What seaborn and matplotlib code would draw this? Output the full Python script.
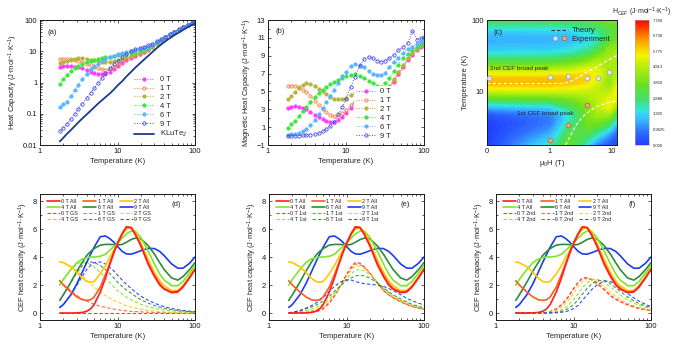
import matplotlib
matplotlib.use("Agg")
import matplotlib.pyplot as plt
import matplotlib.ticker as mticker
from matplotlib.colors import LinearSegmentedColormap, Normalize
from matplotlib.lines import Line2D
from matplotlib.legend_handler import HandlerTuple
import numpy as np
import seaborn as sns

# ---------------- values ----------------
fields = [0, 1, 2, 4, 6, 9]

# panels (a) and (b)
temp_hc = [1.8, 2.0, 2.2, 2.5, 2.8, 3.1, 3.5, 4.0, 4.5, 5.0, 5.6, 6.3, 7.0, 8.0, 9.0, 10, 11.5,
           13, 15, 17, 19.5, 22, 25, 28, 32, 36, 41, 47, 54, 62, 71, 81, 92, 100]

total_0T = [3.11, 3.32, 3.37, 3.33, 3.19, 3.05, 2.82, 2.5, 2.23, 2.06, 1.91, 1.87, 1.94, 2.2, 2.7, 3.35, 4.3,
            5.25, 6.2, 7.15, 8.3, 9.55, 11.3, 13.4, 17.1, 21.3, 26.6, 32.9, 40.2, 48.5, 58.1, 68.6, 80.0, 88.2]
total_1T = [5.61, 5.64, 5.62, 5.48, 5.24, 5.0, 4.57, 4.05, 3.58, 3.21, 2.86, 2.62, 2.54, 2.7, 3.15, 3.7, 4.55,
            5.45, 6.4, 7.35, 8.45, 9.7, 11.45, 13.55, 17.2, 21.4, 26.7, 33.0, 40.3, 48.6, 58.2, 68.7, 80.1, 88.3]
total_2T = [4.11, 4.52, 4.92, 5.43, 5.79, 5.95, 5.92, 5.7, 5.43, 5.16, 4.91, 4.67, 4.54, 4.55, 4.75, 5.1, 5.7,
            6.4, 7.2, 8.05, 9.05, 10.2, 11.9, 13.95, 17.5, 21.6, 26.9, 33.2, 40.5, 48.7, 58.3, 68.8, 80.1, 88.3]
total_4T = [0.91, 1.32, 1.72, 2.28, 2.84, 3.35, 3.92, 4.5, 4.98, 5.36, 5.71, 6.07, 6.39, 6.75, 7.15, 7.5, 7.95,
            8.45, 8.95, 9.5, 10.3, 11.3, 12.85, 14.85, 18.4, 22.5, 27.8, 34.0, 41.2, 49.2, 58.6, 69.0, 80.3, 88.5]
total_6T = [0.16, 0.2, 0.24, 0.38, 0.59, 0.85, 1.27, 1.9, 2.63, 3.26, 4.01, 4.77, 5.54, 6.45, 7.3, 8.0, 8.9,
            9.6, 10.2, 10.7, 11.4, 12.4, 14.05, 16.1, 19.6, 23.7, 28.8, 34.8, 41.8, 49.7, 59.0, 69.3, 80.5, 88.6]
total_9T = [0.028, 0.036, 0.046, 0.068, 0.1, 0.14, 0.21, 0.32, 0.46, 0.65, 0.95, 1.4, 1.95, 2.9, 3.9, 5.0, 6.6,
            8.2, 10.1, 11.6, 13.0, 14.1, 15.65, 17.65, 20.95, 24.7, 29.6, 35.6, 42.5, 50.4, 60.8, 69.8, 81.0, 89.1]
lattice_KLuTe2 = [0.013, 0.017, 0.022, 0.03, 0.04, 0.052, 0.07, 0.095, 0.125, 0.16, 0.21, 0.27, 0.34, 0.45, 0.6,
                  0.8, 1.1, 1.55, 2.2, 3.0, 4.1, 5.4, 7.2, 9.3, 12.5, 16, 20.5, 26, 32.5, 40, 49, 59, 70, 78]

mag_0T = [3.1, 3.3, 3.35, 3.3, 3.15, 3.0, 2.75, 2.4, 2.1, 1.9, 1.7, 1.6, 1.6, 1.75, 2.1, 2.55, 3.2,
          3.7, 4.0, 4.15, 4.2, 4.15, 4.1, 4.1, 4.6, 5.3, 6.1, 6.9, 7.7, 8.5, 9.1, 9.6, 10.0, 10.2]
mag_1T = [5.6, 5.62, 5.6, 5.45, 5.2, 4.95, 4.5, 3.95, 3.45, 3.05, 2.65, 2.35, 2.2, 2.25, 2.55, 2.9, 3.45,
          3.9, 4.2, 4.35, 4.35, 4.3, 4.25, 4.25, 4.7, 5.4, 6.2, 7.0, 7.8, 8.6, 9.2, 9.7, 10.1, 10.3]
mag_2T = [4.1, 4.5, 4.9, 5.4, 5.75, 5.9, 5.85, 5.6, 5.3, 5.0, 4.7, 4.4, 4.2, 4.1, 4.15, 4.3, 4.6,
          4.85, 5.0, 5.05, 4.95, 4.8, 4.7, 4.65, 5.0, 5.6, 6.4, 7.2, 8.0, 8.7, 9.3, 9.8, 10.1, 10.3]
mag_4T = [0.9, 1.3, 1.7, 2.25, 2.8, 3.3, 3.85, 4.4, 4.85, 5.2, 5.5, 5.8, 6.05, 6.3, 6.55, 6.7, 6.85,
          6.9, 6.75, 6.5, 6.2, 5.9, 5.65, 5.55, 5.9, 6.5, 7.3, 8.0, 8.7, 9.2, 9.6, 10.0, 10.3, 10.5]
mag_6T = [0.15, 0.18, 0.22, 0.35, 0.55, 0.8, 1.2, 1.8, 2.5, 3.1, 3.8, 4.5, 5.2, 6.0, 6.7, 7.2, 7.8,
          8.05, 8.0, 7.7, 7.3, 7.0, 6.85, 6.8, 7.1, 7.7, 8.3, 8.8, 9.3, 9.7, 10.0, 10.3, 10.5, 10.6]
mag_9T = [0.04, 0.04, 0.05, 0.06, 0.08, 0.11, 0.16, 0.24, 0.36, 0.52, 0.77, 1.1, 1.6, 2.45, 3.3, 4.2, 5.5,
          6.65, 7.9, 8.6, 8.9, 8.7, 8.45, 8.35, 8.45, 8.7, 9.1, 9.6, 10.0, 10.4, 11.8, 10.8, 11.0, 11.1]

# panels (c)-(f)
temp_cef = [1.8, 2, 2.5, 3, 3.5, 4, 4.5, 5, 6, 7, 8, 9, 10, 11.5, 13, 15, 17, 20, 25, 30, 35, 40, 50, 60, 70, 85, 100]

all_0T = [0, 0, 0, 0.01, 0.04, 0.12, 0.3, 0.6, 1.5, 2.5, 3.5, 4.3, 4.95, 5.65, 6.15, 6.1, 5.6, 4.8, 3.45, 2.6,
          2.0, 1.7, 1.45, 1.5, 1.85, 2.5, 3.1]
all_1T = [2.3, 2.0, 1.5, 1.15, 0.95, 0.9, 0.95, 1.15, 1.85, 2.75, 3.6, 4.4, 5.0, 5.7, 6.15, 6.1, 5.65, 4.85, 3.55,
          2.7, 2.1, 1.75, 1.5, 1.55, 1.9, 2.55, 3.15]
all_2T = [3.65, 3.6, 3.3, 2.9, 2.5, 2.25, 2.2, 2.25, 2.8, 3.4, 4.0, 4.5, 5.0, 5.6, 6.0, 6.1, 5.8, 5.0, 3.8, 2.9,
          2.3, 1.95, 1.6, 1.62, 1.95, 2.6, 3.2]
all_4T = [2.0, 2.4, 3.1, 3.6, 3.85, 3.95, 4.0, 4.0, 4.05, 4.2, 4.5, 4.75, 5.0, 5.35, 5.65, 5.85, 5.85, 5.4, 4.4,
          3.5, 2.8, 2.35, 1.95, 1.95, 2.25, 2.85, 3.4]
all_6T = [0.9, 1.3, 2.2, 3.0, 3.6, 4.1, 4.4, 4.6, 4.85, 4.9, 4.9, 4.88, 4.85, 4.9, 5.05, 5.25, 5.35, 5.3, 4.8,
          4.2, 3.6, 3.1, 2.5, 2.35, 2.6, 3.1, 3.6]
all_9T = [0.4, 0.6, 1.3, 2.1, 2.9, 3.6, 4.2, 4.7, 5.45, 5.5, 5.3, 5.05, 4.75, 4.4, 4.22, 4.2, 4.3, 4.45, 4.62,
          4.6, 4.4, 4.1, 3.5, 3.2, 3.2, 3.55, 4.0]

gs_0T = [0] * 27
gs_1T = [2.3, 2.05, 1.6, 1.25, 1.0, 0.85, 0.72, 0.62, 0.48, 0.4, 0.33, 0.28, 0.24, 0.19, 0.15, 0.12, 0.1, 0.08,
         0.05, 0.04, 0.03, 0.02, 0.01, 0.01, 0.0, 0.0, 0.0]
gs_2T = [3.65, 3.6, 3.35, 3.0, 2.65, 2.35, 2.1, 1.85, 1.5, 1.25, 1.05, 0.9, 0.78, 0.64, 0.52, 0.42, 0.34, 0.26,
         0.18, 0.13, 0.1, 0.08, 0.05, 0.04, 0.03, 0.02, 0.01]
gs_4T = [2.0, 2.4, 3.1, 3.5, 3.65, 3.6, 3.45, 3.3, 2.9, 2.5, 2.15, 1.85, 1.6, 1.35, 1.15, 0.95, 0.8, 0.62, 0.45,
         0.34, 0.27, 0.22, 0.15, 0.11, 0.08, 0.06, 0.04]
gs_6T = [0.9, 1.3, 2.2, 2.9, 3.35, 3.6, 3.65, 3.6, 3.4, 3.1, 2.8, 2.5, 2.2, 1.9, 1.65, 1.4, 1.2, 0.95, 0.7, 0.53,
         0.42, 0.34, 0.24, 0.18, 0.14, 0.1, 0.07]
gs_9T = [0.4, 0.6, 1.3, 2.0, 2.6, 3.1, 3.4, 3.6, 3.65, 3.5, 3.25, 3.0, 2.7, 2.35, 2.05, 1.75, 1.5, 1.2, 0.9, 0.7,
         0.56, 0.45, 0.32, 0.24, 0.18, 0.13, 0.1]

first_0T = [0, 0, 0, 0.01, 0.03, 0.08, 0.17, 0.3, 0.7, 1.2, 1.75, 2.3, 2.75, 3.3, 3.62, 3.55, 3.3, 2.85, 2.15, 1.6,
            1.3, 1.08, 0.8, 0.6, 0.46, 0.34, 0.26]
first_1T = [0, 0, 0.01, 0.03, 0.06, 0.12, 0.2, 0.35, 0.75, 1.25, 1.75, 2.25, 2.7, 3.2, 3.5, 3.45, 3.25, 2.85, 2.15,
            1.62, 1.32, 1.1, 0.82, 0.62, 0.48, 0.35, 0.27]
first_2T = [0.01, 0.02, 0.04, 0.08, 0.14, 0.22, 0.32, 0.45, 0.85, 1.3, 1.75, 2.2, 2.6, 3.05, 3.35, 3.35, 3.2, 2.85,
            2.2, 1.68, 1.38, 1.15, 0.86, 0.65, 0.5, 0.37, 0.28]
first_4T = [0.02, 0.04, 0.1, 0.18, 0.27, 0.38, 0.5, 0.65, 1.0, 1.4, 1.8, 2.15, 2.45, 2.8, 3.05, 3.1, 3.0, 2.75, 2.2,
            1.75, 1.45, 1.22, 0.92, 0.7, 0.55, 0.41, 0.31]
first_6T = [0.02, 0.05, 0.15, 0.3, 0.43, 0.55, 0.7, 0.85, 1.2, 1.55, 1.85, 2.1, 2.3, 2.5, 2.65, 2.7, 2.65, 2.5, 2.15,
            1.8, 1.52, 1.3, 1.0, 0.78, 0.62, 0.47, 0.36]
first_9T = [0.02, 0.05, 0.18, 0.35, 0.52, 0.7, 0.9, 1.1, 1.55, 1.9, 2.15, 2.3, 2.37, 2.35, 2.25, 2.15, 2.1, 2.05,
            2.0, 1.9, 1.75, 1.6, 1.3, 1.05, 0.88, 0.7, 0.58]

second_0T = [0, 0, 0, 0, 0.01, 0.02, 0.05, 0.1, 0.3, 0.6, 0.95, 1.35, 1.75, 2.2, 2.5, 2.52, 2.38, 2.1, 1.65, 1.22,
             0.98, 0.8, 0.58, 0.42, 0.32, 0.23, 0.17]
second_1T = [0, 0, 0, 0, 0.01, 0.02, 0.04, 0.09, 0.28, 0.57, 0.9, 1.3, 1.7, 2.15, 2.47, 2.52, 2.4, 2.15, 1.7, 1.27,
             1.02, 0.83, 0.6, 0.44, 0.33, 0.24, 0.18]
second_2T = [0, 0, 0, 0, 0, 0.01, 0.03, 0.06, 0.2, 0.42, 0.7, 1.05, 1.4, 1.9, 2.25, 2.45, 2.45, 2.3, 1.9, 1.48,
             1.2, 0.98, 0.7, 0.52, 0.4, 0.29, 0.21]
second_4T = [0, 0, 0, 0, 0, 0, 0.01, 0.03, 0.1, 0.23, 0.42, 0.68, 0.95, 1.4, 1.8, 2.15, 2.35, 2.42, 2.2, 1.85,
             1.55, 1.3, 0.95, 0.7, 0.54, 0.4, 0.3]
second_6T = [0, 0, 0, 0, 0, 0, 0, 0.01, 0.05, 0.12, 0.23, 0.4, 0.6, 0.95, 1.35, 1.75, 2.05, 2.3, 2.33, 2.1,
             1.8, 1.55, 1.15, 0.87, 0.68, 0.5, 0.38]
second_9T = [0, 0, 0, 0, 0, 0, 0, 0, 0.02, 0.05, 0.1, 0.2, 0.32, 0.55, 0.9, 1.3, 1.65, 2.0, 2.28, 2.25,
             2.05, 1.82, 1.4, 1.08, 0.85, 0.62, 0.45]

# extra column of the (c) map at the right edge
map_fields = [0, 1, 2, 4, 6, 9, 12]
map_12T = [0.15, 0.25, 0.55, 1.0, 1.55, 2.1, 2.7, 3.25, 4.2, 4.9, 5.35, 5.55, 5.6, 5.45, 5.2, 4.95, 4.8, 4.7,
           4.65, 4.65, 4.55, 4.35, 3.9, 3.6, 3.5, 3.7, 4.0]

theory_2nd_h = [0, 0.5, 1, 1.5, 1.8, 2.5, 3.7, 5.3, 8, 11.2, 12]
theory_2nd_t = [13, 13, 13, 13, 13.2, 14.7, 18.2, 21.4, 26.5, 31, 32]
theory_1st_h = [1.8, 2.2, 2.6, 3.2, 3.8, 5, 6.5, 8.5, 12]
theory_1st_t = [1.8, 2.5, 3.3, 4.2, 4.9, 5.8, 6.5, 7.0, 7.4]
exp_2nd_h = [0.03, 1, 2, 4, 6, 9]
exp_2nd_t = [15.5, 16, 16.5, 15.5, 15.5, 19]
exp_1st_h = [1, 2, 4]
exp_1st_t = [2.1, 3.4, 6.6]

cbar_ticks = [0, 0.9625, 1.925, 2.888, 3.85, 4.813, 5.775, 6.738, 7.7]
cbar_labels = ['0.000', '0.9625', '1.925', '2.888', '3.850', '4.813', '5.775', '6.738', '7.700']

# ---------------- style ----------------
sns.set_theme(style="ticks")
plt.rcParams['font.family'] = ['Liberation Sans', 'DejaVu Sans']
plt.rcParams['mathtext.fontset'] = 'custom'
plt.rcParams['mathtext.rm'] = 'Liberation Sans'
plt.rcParams['mathtext.it'] = 'Liberation Sans:italic'

FS = 5.5
unit = ' (J·mol$^{-1}$·K$^{-1}$)'
hc_colors = ['#ff3cff', '#ff7a3c', '#b4b43c', '#3ce63c', '#5ab4ff', '#4b4be6']
hc_filled = [True, False, True, True, True, False]
cef_colors = ['#ff1e1e', '#ff5a1e', '#ffc800', '#7ee62a', '#2e8b3c', '#1e3cf0']

total_curves = [total_0T, total_1T, total_2T, total_4T, total_6T, total_9T]
mag_curves = [mag_0T, mag_1T, mag_2T, mag_4T, mag_6T, mag_9T]
all_curves = [all_0T, all_1T, all_2T, all_4T, all_6T, all_9T]
gs_curves = [gs_0T, gs_1T, gs_2T, gs_4T, gs_6T, gs_9T]
first_curves = [first_0T, first_1T, first_2T, first_4T, first_6T, first_9T]
second_curves = [second_0T, second_1T, second_2T, second_4T, second_6T, second_9T]


def style_axis(ax):
    ax.tick_params(which='both', direction='in', top=True, right=True,
                   labelsize=FS, width=0.5, pad=2, colors='k')
    ax.tick_params(which='major', length=2.5)
    ax.tick_params(which='minor', length=1.4)
    for s in ax.spines.values():
        s.set_linewidth(0.7)
        s.set_color('k')


def log_temperature_axis(ax):
    ax.set_xscale('log')
    ax.set_xlim(1, 100)
    ax.xaxis.set_major_formatter(mticker.FuncFormatter(lambda v, p: f'{v:g}'))
    ax.xaxis.set_minor_formatter(mticker.NullFormatter())
    ax.set_xlabel('Temperature (K)', fontsize=FS, labelpad=2)


def draw_marker_curves(ax, curves):
    for f, vals, col, filled in zip(fields, curves, hc_colors, hc_filled):
        sns.lineplot(x=temp_hc, y=vals, ax=ax, color=col, lw=0.7, linestyle=':',
                     marker='o', markersize=2.4, markeredgewidth=0.6,
                     markeredgecolor=col, markerfacecolor=col if filled else 'none',
                     label=f'{f} T')


fig = plt.figure(figsize=(6.83, 3.49), dpi=100)
W, H = 683.0, 349.0


def axes_at(left, top, right, bottom):
    return fig.add_axes([left / W, 1 - bottom / H, (right - left) / W, (bottom - top) / H])


# ---- (a) ----
ax = axes_at(40, 20, 195, 145)
draw_marker_curves(ax, total_curves)
sns.lineplot(x=temp_hc, y=lattice_KLuTe2, ax=ax, color='#1b3a8c', lw=1.3, label='KLuTe$_2$')
log_temperature_axis(ax)
ax.set_yscale('log')
ax.set_ylim(0.01, 100)
ax.yaxis.set_major_formatter(mticker.FuncFormatter(lambda v, p: f'{v:g}'))
ax.yaxis.set_minor_formatter(mticker.NullFormatter())
ax.set_ylabel('Heat Capacity' + unit, fontsize=FS, labelpad=2)
ax.legend(loc='lower right', bbox_to_anchor=(0.97, 0.02), fontsize=FS, frameon=False,
          handlelength=2.6, handletextpad=0.8, labelspacing=0.2, borderaxespad=0)
ax.text(0.05, 0.9, '(a)', transform=ax.transAxes, fontsize=FS, va='center')
style_axis(ax)

# ---- (b) ----
ax = axes_at(268, 20, 424, 145)
draw_marker_curves(ax, mag_curves)
log_temperature_axis(ax)
ax.set_ylim(-1, 13)
ax.set_yticks(range(-1, 14, 2))
ax.yaxis.set_minor_locator(mticker.MultipleLocator(1))
ax.set_ylabel('Magnetic Heat Capacity' + unit, fontsize=FS, labelpad=2)
ax.legend(loc='lower right', bbox_to_anchor=(0.8, 0.03), fontsize=FS, frameon=True,
          facecolor='white', edgecolor='none', framealpha=1, handlelength=2.6,
          handletextpad=0.6, labelspacing=0.2, borderaxespad=0, borderpad=0.2)
ax.text(0.05, 0.91, '(b)', transform=ax.transAxes, fontsize=FS, va='center')
style_axis(ax)

# ---- (c) ----
ax = axes_at(487, 20, 617, 145)
cmap = LinearSegmentedColormap.from_list('hcef', [
    (0.0, '#1f3dff'), (0.1, '#2f6dff'), (0.2, '#38b8ff'), (0.27, '#30e6e6'),
    (0.36, '#40e070'), (0.48, '#66e020'), (0.6, '#a8ec10'), (0.72, '#f5f500'),
    (0.86, '#ff8c00'), (1.0, '#ff0000')])
norm = Normalize(vmin=0, vmax=7.7)
grid = np.column_stack(all_curves + [map_12T])
ax.contourf(map_fields, temp_cef, grid, levels=np.linspace(0, 7.7, 90), cmap=cmap, norm=norm,
            antialiased=False)
ax.set_xscale('symlog', linthresh=1, linscale=0.9)
ax.set_yscale('log')
ax.set_xlim(0, 12)
ax.set_ylim(1.8, 100)
ax.set_xticks([0, 1, 10])
ax.set_xticklabels(['0', '1', '10'])
ax.xaxis.set_minor_locator(mticker.FixedLocator([2, 3, 4, 5, 6, 7, 8, 9, 11]))
ax.yaxis.set_major_formatter(mticker.FuncFormatter(lambda v, p: f'{v:g}'))
ax.yaxis.set_minor_formatter(mticker.NullFormatter())
sns.lineplot(x=theory_2nd_h, y=theory_2nd_t, ax=ax, color='white', lw=0.8, linestyle=(0, (3, 2)))
sns.lineplot(x=theory_1st_h, y=theory_1st_t, ax=ax, color='white', lw=0.8, linestyle=(0, (3, 2)))
sns.scatterplot(x=exp_2nd_h, y=exp_2nd_t, ax=ax, color='#dce8f4', edgecolor='#a0a8b0',
                linewidth=0.5, s=12, zorder=5, clip_on=False)
sns.scatterplot(x=exp_1st_h, y=exp_1st_t, ax=ax, color='#f0a878', edgecolor='#c06030',
                linewidth=0.5, s=12, zorder=5, clip_on=False)
ax.set_xlabel('μ$_0$H (T)', fontsize=FS, labelpad=2)
ax.set_ylabel('Temperature (K)', fontsize=FS, labelpad=2)
ax.text(0.05, 0.9, '(c)', transform=ax.transAxes, fontsize=FS, va='center')
ax.text(0.04, 21, '2nd CEF broad peak', fontsize=4.6, va='center')
ax.text(0.48, 4.9, '1st CEF broad peak', fontsize=4.6, va='center')
theory_handle = Line2D([], [], color='#333333', lw=0.8, linestyle=(0, (3, 2)))
exp_handles = (Line2D([], [], ls='none', marker='o', ms=3.2, mfc='#dce8f4', mec='#a0a8b0', mew=0.5),
               Line2D([], [], ls='none', marker='o', ms=3.2, mfc='#f0a878', mec='#c06030', mew=0.5))
ax.legend([theory_handle, exp_handles], ['Theory', 'Experiment'], loc='upper left',
          bbox_to_anchor=(0.44, 1.0), fontsize=FS, frameon=False, handlelength=2.2,
          handletextpad=0.5, labelspacing=0.2,
          handler_map={tuple: HandlerTuple(ndivide=None, pad=0.2)})
style_axis(ax)

cax = axes_at(635, 20, 649, 145)
cb = fig.colorbar(plt.cm.ScalarMappable(norm=norm, cmap=cmap), cax=cax, ticks=cbar_ticks)
cb.ax.set_yticklabels(cbar_labels, fontsize=3)
cb.ax.tick_params(length=0, pad=3)
cb.outline.set_linewidth(0.4)
cb.outline.set_edgecolor('#b0b0b0')
fig.text(642 / W, 1 - 12 / H, 'H$_{CEF}$' + unit, ha='center', va='center', fontsize=5)


# ---- (d)-(f) ----
def draw_cef(left, right, sub_curves, sub_name, letter):
    ax = axes_at(left, 194, right, 320)
    for f, col, ys in zip(fields, cef_colors, sub_curves):
        sns.lineplot(x=temp_cef, y=ys, ax=ax, color=col, lw=0.8, alpha=0.9,
                     linestyle=(0, (3, 2)), label=f'{f} T {sub_name}')
    for f, col, ya in zip(fields[::-1], cef_colors[::-1], all_curves[::-1]):
        sns.lineplot(x=temp_cef, y=ya, ax=ax, color=col, lw=1.2, label=f'{f} T All')
    log_temperature_axis(ax)
    ax.set_ylim(-0.5, 8.5)
    ax.set_yticks([0, 2, 4, 6, 8])
    ax.yaxis.set_minor_locator(mticker.MultipleLocator(1))
    ax.set_ylabel('CEF heat capacity' + unit, fontsize=FS, labelpad=2)
    handles, labels = ax.get_legend_handles_labels()
    lookup = dict(zip(labels, handles))
    order = []
    for a, b in [(0, 4), (1, 6), (2, 9)]:
        order += [f'{a} T All', f'{b} T All', f'{a} T {sub_name}', f'{b} T {sub_name}']
    ax.legend([lookup[k] for k in order], order, loc='upper left', bbox_to_anchor=(0.03, 0.98),
              ncol=3, fontsize=4, frameon=False, handlelength=2.3, handletextpad=0.3,
              columnspacing=0.9, labelspacing=0.2, borderaxespad=0)
    ax.text(0.88, 0.92, letter, transform=ax.transAxes, fontsize=FS, ha='center', va='center')
    style_axis(ax)


draw_cef(40, 195, gs_curves, 'GS', '(d)')
draw_cef(269, 424, first_curves, '1st', '(e)')
draw_cef(496, 651, second_curves, '2nd', '(f)')

fig.savefig('out.png', dpi=100)
